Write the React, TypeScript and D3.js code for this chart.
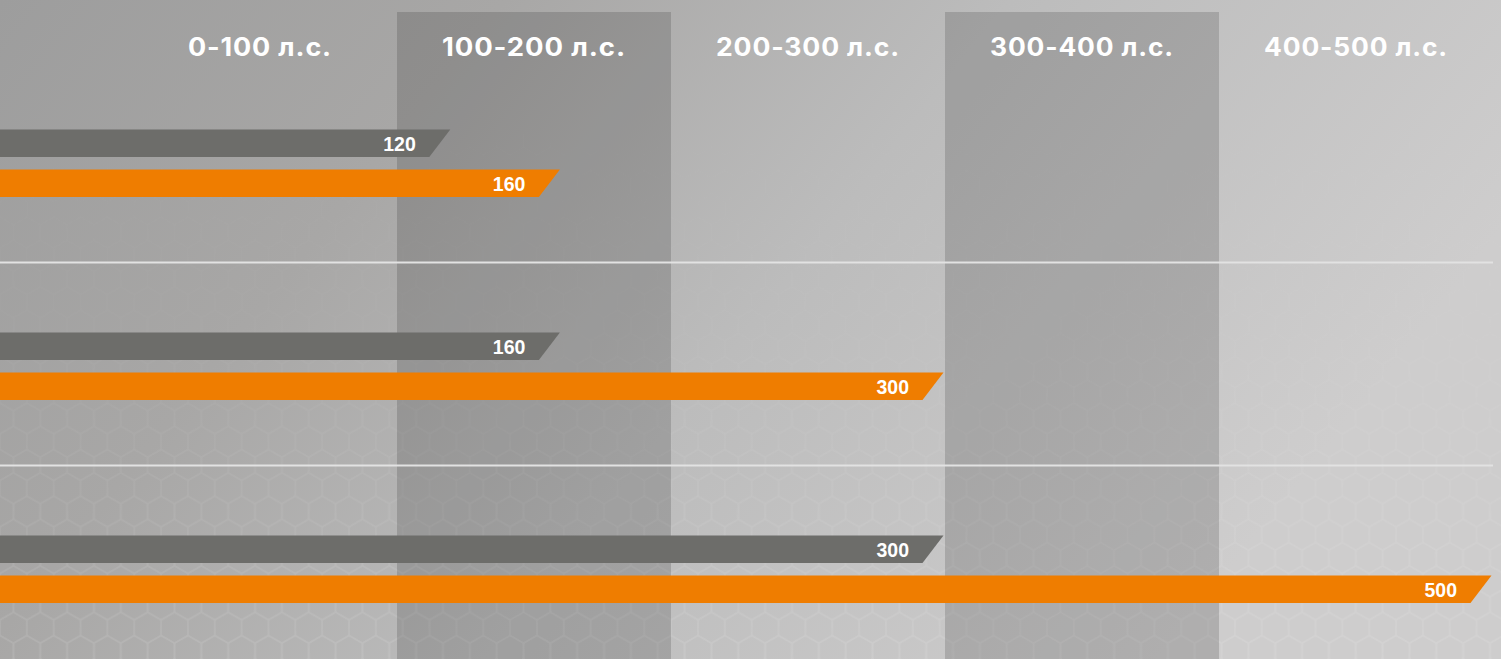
import React from "react";
import * as d3 from "d3";

const categories = ["row1", "row2", "row3"];
const grayValues = [120, 160, 300];
const orangeValues = [160, 300, 500];
const columnLabels = ["0-100 л.с.", "100-200 л.с.", "200-300 л.с.", "300-400 л.с.", "400-500 л.с."];
const columnStarts = [0, 100, 200, 300, 400];

const W = 1501;
const H = 659;

function hexPath(cx: number, cy: number, r: number) {
  const pts = d3.range(6).map((i) => {
    const a = (Math.PI / 3) * i + Math.PI / 6;
    return [cx + r * Math.cos(a), cy + r * Math.sin(a)];
  });
  return "M" + pts.map((p) => p.join(",")).join("L") + "Z";
}

export default function App() {
  const x = d3.scaleLinear().domain([0, 500]).range([123, 1493]);
  const y = d3.scaleBand<string>().domain(categories).range([59.5, 668.5]);
  const barH = 27.5;
  const slant = 21;
  const hexR = 15.5;
  const hexW = Math.sqrt(3) * hexR;
  const hexH = 3 * hexR;

  const bar = (v: number, top: number) => {
    const xr = x(v) - 1.5;
    return `M-5,${top}L${xr},${top}L${xr - slant},${top + barH}L-5,${top + barH}Z`;
  };

  const labelFont = { font: "bold 19.5px 'Liberation Sans', Arial, sans-serif" };

  return (
    <svg width={W} height={H} style={{ position: "absolute", left: 0, top: 0, display: "block" }}>
      <defs>
        <linearGradient id="bg" x1="0" y1="0" x2="1" y2="0.35">
          <stop offset="0" stopColor="#9d9d9d" />
          <stop offset="0.3" stopColor="#a8a7a6" />
          <stop offset="0.6" stopColor="#bcbcbc" />
          <stop offset="1" stopColor="#cecdcd" />
        </linearGradient>
        <pattern id="hex" width={hexW} height={hexH} patternUnits="userSpaceOnUse">
          <path d={hexPath(0, 0, hexR)} fill="none" stroke="#ffffff" strokeWidth={1.6} />
          <path d={hexPath(hexW, 0, hexR)} fill="none" stroke="#ffffff" strokeWidth={1.6} />
          <path d={hexPath(hexW / 2, hexH / 2, hexR)} fill="none" stroke="#ffffff" strokeWidth={1.6} />
          <path d={hexPath(0, hexH, hexR)} fill="none" stroke="#ffffff" strokeWidth={1.6} />
          <path d={hexPath(hexW, hexH, hexR)} fill="none" stroke="#ffffff" strokeWidth={1.6} />
        </pattern>
        <linearGradient id="hexFade" x1="0" y1="0" x2="0" y2="1">
          <stop offset="0" stopColor="#fff" stopOpacity="0" />
          <stop offset="0.5" stopColor="#fff" stopOpacity="0.15" />
          <stop offset="1" stopColor="#fff" stopOpacity="1" />
        </linearGradient>
        <mask id="hexMask">
          <rect x={0} y={0} width={W} height={H} fill="url(#hexFade)" />
        </mask>
      </defs>
      <rect x={0} y={0} width={W} height={H} fill="url(#bg)" />
      <rect x={0} y={0} width={W} height={H} fill="url(#hex)" opacity={0.1} mask="url(#hexMask)" />
      {columnStarts.map((s, i) =>
        i % 2 === 1 ? (
          <rect key={s} x={x(s)} y={12} width={x(s + 100) - x(s)} height={H - 12} fill="#000" opacity={0.15} />
        ) : null
      )}
      {columnStarts.map((s, i) => {
        const cx = (x(s) + x(s + 100)) / 2;
        const len = i === 0 ? 144 : 184;
        return (
          <text
            key={"h" + s}
            x={cx - len / 2}
            y={55.5}
            textLength={len}
            lengthAdjust="spacingAndGlyphs"
            fill="#ffffff"
            style={{ font: "700 25px Inter", letterSpacing: "0.8px" }}
          >
            {columnLabels[i]}
          </text>
        );
      })}
      {categories.slice(1).map((c) => (
        <line key={"sep" + c} x1={0} x2={1493} y1={y(c)!} y2={y(c)!} stroke="#e2e2e2" strokeWidth={2} />
      ))}
      {categories.map((c, i) => {
        const top = y(c)!;
        const gTop = top + 70;
        const oTop = top + 110;
        return (
          <g key={c}>
            <path d={bar(grayValues[i], gTop)} fill="#6d6d6a" />
            <path d={bar(orangeValues[i], oTop)} fill="#ef7d00" />
            <text x={x(grayValues[i]) - 36} y={gTop + 21.5} textAnchor="end" fill="#fff" style={labelFont}>
              {grayValues[i]}
            </text>
            <text x={x(orangeValues[i]) - 36} y={oTop + 21.5} textAnchor="end" fill="#fff" style={labelFont}>
              {orangeValues[i]}
            </text>
          </g>
        );
      })}
    </svg>
  );
}
